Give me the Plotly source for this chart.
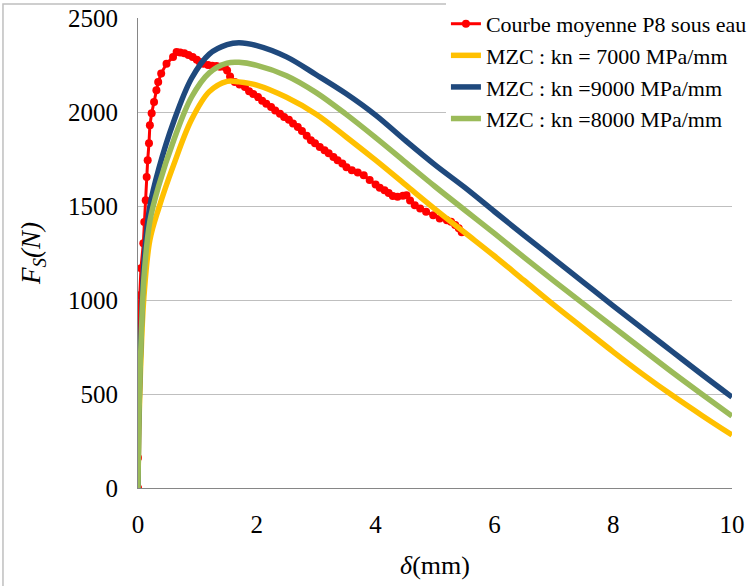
import plotly.graph_objects as go

# Experimental mean curve (P8 under water)
red_x = [0, 0, 0, 0, 0, 0, 0.017, 0.034, 0.05, 0.09, 0.106, 0.13, 0.146, 0.163, 0.185, 0.2,
         0.23, 0.27, 0.31, 0.34, 0.39, 0.48, 0.59, 0.65, 0.71, 0.78, 0.85, 0.92, 0.99, 1.04,
         1.1, 1.18, 1.25, 1.32, 1.38, 1.46, 1.5, 1.55, 1.63, 1.71, 1.8, 1.87, 1.94, 2.02,
         2.09, 2.16, 2.24, 2.31, 2.39, 2.46, 2.54, 2.61, 2.69, 2.76, 2.84, 2.91, 2.98, 3.06,
         3.14, 3.21, 3.29, 3.36, 3.44, 3.51, 3.6, 3.7, 3.8, 3.9, 4.0, 4.07, 4.15, 4.22, 4.29,
         4.37, 4.46, 4.52, 4.58, 4.66, 4.75, 4.85, 4.97, 5.08, 5.2, 5.27, 5.34, 5.4, 5.45]
red_y = [0, 161, 587, 739, 813, 885, 933, 1027, 1170, 1303, 1416, 1532, 1656, 1745, 1835, 1931,
         1995, 2055, 2117, 2161, 2206, 2259, 2294, 2321, 2318, 2314, 2305, 2294, 2280, 2268,
         2259, 2252, 2248, 2246, 2243, 2241, 2223, 2190, 2161, 2148, 2135, 2112, 2098, 2081,
         2062, 2045, 2028, 2010, 1992, 1975, 1960, 1940, 1922, 1900, 1875, 1851, 1835, 1815,
         1798, 1782, 1762, 1745, 1728, 1708, 1691, 1680, 1665, 1640, 1615, 1598, 1585, 1570,
         1555, 1550, 1556, 1559, 1530, 1505, 1488, 1470, 1452, 1435, 1425, 1417, 1400, 1383,
         1362, 1340]

# MZC model curves
mzc_x = [0, 0.01, 0.03, 0.06, 0.1, 0.2, 0.35, 0.6, 0.9, 1.2, 1.5, 1.7, 2.0, 2.5, 3.0, 3.5,
         4.0, 4.5, 5.0, 5.5, 6.0, 6.5, 7.0, 7.5, 8.0, 8.5, 9.0, 9.5, 10]
kn7000_y = [0, 250, 500, 780, 1020, 1320, 1490, 1720, 1960, 2110, 2165, 2162, 2145, 2080, 1990,
            1870, 1745, 1615, 1485, 1360, 1235, 1105, 975, 850, 725, 605, 492, 385, 282]
kn9000_y = [0, 300, 600, 900, 1200, 1500, 1700, 1950, 2180, 2310, 2360, 2370, 2355, 2295, 2200,
            2100, 1985, 1850, 1720, 1600, 1472, 1345, 1220, 1095, 970, 847, 725, 603, 484]
kn8000_y = [0, 280, 560, 850, 1120, 1420, 1610, 1850, 2080, 2210, 2262, 2266, 2250, 2195, 2105,
            1990, 1865, 1735, 1605, 1480, 1355, 1228, 1103, 980, 858, 736, 615, 498, 383]

x_ticks = [0, 2, 4, 6, 8, 10]
y_ticks = [0, 500, 1000, 1500, 2000, 2500]

serif = "Liberation Serif"

n = min(len(red_x), len(red_y))
fig = go.Figure()
fig.add_trace(go.Scatter(x=red_x[:n], y=red_y[:n], mode="lines+markers",
                         name="Courbe moyenne P8 sous eau",
                         line=dict(color="#FF0000", width=3),
                         marker=dict(color="#FF0000", size=8)))
fig.add_trace(go.Scatter(x=mzc_x, y=kn7000_y, mode="lines", name="MZC : kn = 7000 MPa/mm",
                         line=dict(color="#FFC000", width=5.5, shape="spline")))
fig.add_trace(go.Scatter(x=mzc_x, y=kn9000_y, mode="lines", name="MZC : kn =9000 MPa/mm",
                         line=dict(color="#1F497D", width=5.5, shape="spline")))
fig.add_trace(go.Scatter(x=mzc_x, y=kn8000_y, mode="lines", name="MZC : kn =8000 MPa/mm",
                         line=dict(color="#9BBB59", width=5.5, shape="spline")))

fig.update_layout(
    width=752, height=586,
    margin=dict(l=138, r=20, t=18, b=98, autoexpand=False),
    paper_bgcolor="white", plot_bgcolor="white",
    font=dict(family=serif, color="black", size=22),
    showlegend=True,
    legend=dict(xref="container", yref="container", x=0.593, y=0.995,
                xanchor="left", yanchor="top",
                bgcolor="white", borderwidth=0,
                font=dict(family=serif, size=22, color="black"),
                tracegroupgap=0, itemwidth=30),
    xaxis=dict(range=[0, 10], tickvals=x_ticks, ticktext=[str(v) for v in x_ticks],
               showgrid=False, zeroline=False, showline=True, linecolor="#868686",
               linewidth=1, ticks="", ticklabelstandoff=14, automargin=False,
               tickfont=dict(family=serif, size=25, color="black"),
               title=dict(text="<i>δ</i>(mm)", font=dict(family=serif, size=26), standoff=18)),
    yaxis=dict(range=[0, 2502], tickvals=y_ticks, ticktext=[str(v) for v in y_ticks],
               showgrid=True, gridcolor="#BFBFBF", gridwidth=1, zeroline=False,
               showline=True, linecolor="#868686", linewidth=1, ticks="",
               ticklabelstandoff=14, automargin=False, ticklabeloverflow="allow",
               tickfont=dict(family=serif, size=25, color="black"),
               title=dict(text="<i>F</i><sub><i>S</i></sub><i>(N)</i>",
                          font=dict(family=serif, size=27), standoff=19)),
    shapes=[dict(type="rect", xref="paper", yref="paper", x0=-0.2273, x1=1.2, y0=-0.3, y1=1.0298,
                 line=dict(color="#BFBFBF", width=1.5), fillcolor="rgba(0,0,0,0)", layer="below")],
)

fig.write_html("out.html", config={"displayModeBar": False},
               post_script="document.body.style.margin='0px';")
